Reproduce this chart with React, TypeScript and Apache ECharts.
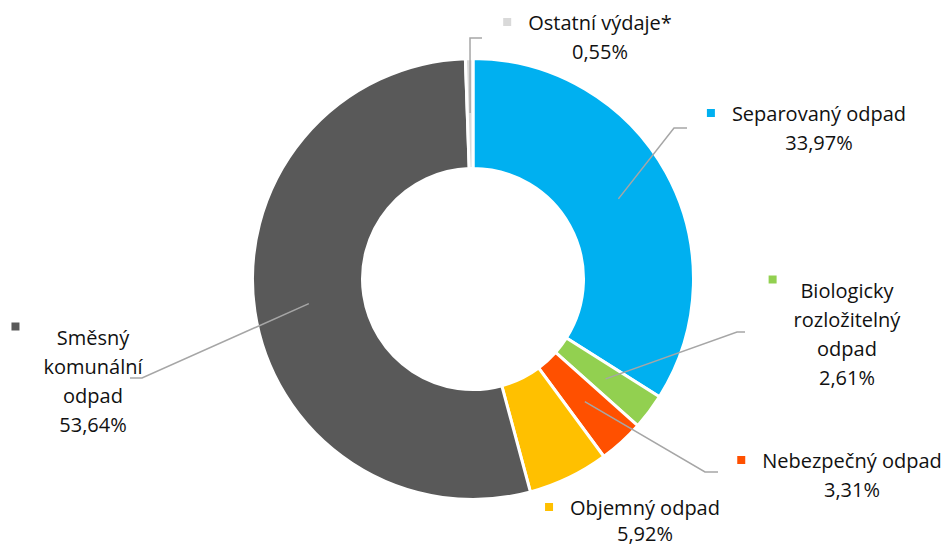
import React, { useEffect, useRef } from 'react';
import * as echarts from 'echarts';

// ---- data ----
const categories = [
  'Separovaný odpad',
  'Biologicky rozložitelný odpad',
  'Nebezpečný odpad',
  'Objemný odpad',
  'Směsný komunální odpad',
  'Ostatní výdaje*',
];
const shares = [33.97, 2.61, 3.31, 5.92, 53.64, 0.55];
const labelRows = [
  ['Separovaný odpad'],
  ['Biologicky', 'rozložitelný', 'odpad'],
  ['Nebezpečný odpad'],
  ['Objemný odpad'],
  ['Směsný', 'komunální', 'odpad'],
  ['Ostatní výdaje*'],
];
const colors = ['#00B0F0', '#92D050', '#FF5000', '#FFC000', '#595959', '#D9D9D9'];

// ---- label layout (annotation positions) ----
const labelAnchors = [
  [819, 113],
  [847, 290],
  [852, 460],
  [645, 507],
  [93, 337],
  [600, 22],
];
const labelLineHeights = [29, 29, 29, 26, 29, 29];
const leaderBends: (number[] | null)[] = [
  [674, 128, 687],
  [737, 332, 745],
  [705, 472, 718],
  null,
  [142, 378, 130],
  [470, 38, 482],
];
const keyGaps = [17, 17, 17, 17, 24, 17];
const keyAlign = ['middle', 'top', 'middle', 'middle', 'top', 'middle'];

const CX = 473;
const CY = 279;
const R_IN = 112;
const R_OUT = 219;
const R_LEADER = 166;
const BORDER = 3;
const KEY = 8;
const FONT = 'Open Sans';
const FONT_SIZE = 20;
const TEXT_COLOR = '#111111';

function fmtPct(v: number) {
  return v.toFixed(2).replace('.', ',') + '%';
}

export default function App() {
  const ref = useRef<HTMLDivElement>(null);

  useEffect(() => {
    if (!ref.current) return;
    const chart = echarts.init(ref.current, null, { renderer: 'svg' });

    const ringData = categories.map((name, i) => ({
      name,
      value: shares[i],
      itemStyle: { color: colors[i] },
    }));

    const labelData = categories.map((name, i) => ({
      name,
      value: shares[i],
      label: {
        lineHeight: labelLineHeights[i],
        rich: {
          k: {
            width: KEY,
            height: KEY,
            backgroundColor: colors[i],
            align: 'left',
            verticalAlign: keyAlign[i],
          },
          g: { width: keyGaps[i], align: 'left' },
          s: { width: KEY + keyGaps[i], align: 'left' },
          t: {
            align: 'center',
            fontFamily: FONT,
            fontSize: FONT_SIZE,
            color: TEXT_COLOR,
            lineHeight: labelLineHeights[i],
          },
        },
      },
      labelLine: { show: leaderBends[i] != null },
    }));

    const radius = [R_IN - BORDER / 2, R_OUT + BORDER / 2];

    chart.setOption({
      animation: false,
      backgroundColor: '#ffffff',
      series: [
        {
          type: 'pie',
          z: 2,
          center: [CX, CY],
          radius,
          startAngle: 90,
          clockwise: true,
          silent: true,
          emphasis: { disabled: true },
          itemStyle: { borderColor: '#ffffff', borderWidth: BORDER },
          label: { show: false },
          labelLine: { show: false },
          data: ringData,
        },
        {
          type: 'pie',
          z: 5,
          center: [CX, CY],
          radius,
          startAngle: 90,
          clockwise: true,
          avoidLabelOverlap: false,
          silent: true,
          emphasis: { disabled: true },
          itemStyle: { color: 'rgba(0,0,0,0)', borderWidth: 0 },
          label: {
            show: true,
            position: 'outside',
            fontFamily: FONT,
            fontSize: FONT_SIZE,
            color: TEXT_COLOR,
            formatter: (p: any) => {
              const i = p.dataIndex;
              const rows = [...labelRows[i], fmtPct(shares[i])];
              return rows
                .map((r, j) => (j === 0 ? '{k|}{g|}' : '{s|}') + '{t|' + r + '}')
                .join('\n');
            },
          },
          labelLine: {
            show: true,
            length: 20,
            length2: 10,
            lineStyle: { color: '#A6A6A6', width: 1.5 },
          },
          labelLayout: (params: any) => {
            const i = params.dataIndex;
            const [tx, ty] = labelAnchors[i];
            const W = KEY + keyGaps[i];
            const bw = params.labelRect.width;
            const left = tx - W - (bw - W) / 2;
            const top = ty - labelLineHeights[i] / 2;
            const res: any = { x: left, y: top, align: 'left', verticalAlign: 'top' };
            const pts = params.labelLinePoints;
            const bend = leaderBends[i];
            if (pts && bend) {
              const dx = pts[0][0] - CX;
              const dy = pts[0][1] - CY;
              const d = Math.hypot(dx, dy) || 1;
              const p0 = [CX + (dx / d) * R_LEADER, CY + (dy / d) * R_LEADER];
              res.labelLinePoints = [p0, [bend[0], bend[1]], [bend[2], bend[1]]];
            }
            return res;
          },
          data: labelData,
        },
      ],
    });

    return () => chart.dispose();
  }, []);

  return (
    <div
      ref={ref}
      style={{ position: 'absolute', left: 0, top: 0, width: 950, height: 547 }}
    />
  );
}
